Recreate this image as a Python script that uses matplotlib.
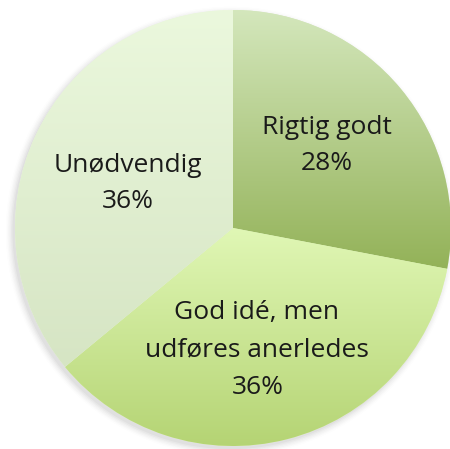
import matplotlib
matplotlib.use("Agg")
import matplotlib.pyplot as plt
import numpy as np
from matplotlib.colors import LinearSegmentedColormap

labels = ["Rigtig godt", "God idé, men\nudføres anerledes", "Unødvendig"]
values = [28, 36, 36]
top_colors = ["#d4e7bc", "#e0f7b5", "#ebf8dd"]
bottom_colors = ["#93b258", "#b5d474", "#d6e5c4"]

W, H = 450, 449
cx, cy, R = 233, 228, 218
fig = plt.figure(figsize=(W / 100, H / 100), dpi=100)
ax = fig.add_axes([0, 0, 1, 1])

# shadow
for i, a in enumerate(np.linspace(0.05, 0.012, 6)):
    c = plt.Circle((-0.012, -0.015), 1.0 + i * 0.006, color="#606060", alpha=a, lw=0, zorder=0)
    ax.add_patch(c)

wedges, _ = ax.pie(values, startangle=90, counterclock=False, radius=1.0,
                   colors=top_colors, wedgeprops=dict(linewidth=0))

for w, tc, bc in zip(wedges, top_colors, bottom_colors):
    ext = w.get_path().get_extents(w.get_transform() + ax.transData.inverted())
    y0, y1 = ext.y0, ext.y1
    cmap = LinearSegmentedColormap.from_list("g", [bc, tc])
    grad = np.linspace(0, 1, 256).reshape(-1, 1)
    im = ax.imshow(grad, cmap=cmap, origin="lower", aspect="auto",
                   extent=[-1.01, 1.01, y0, y1], zorder=2, interpolation="bilinear")
    im.set_clip_path(w)

ax.set_xlim(-cx / R, (W - cx) / R)
ax.set_ylim(-(H - cy) / R, cy / R)
ax.set_aspect("auto")
ax.axis("off")

def px(x, y):
    return ((x - cx) / R, (cy - y) / R)

fs = 19
fam = ["Open Sans", "DejaVu Sans"]
tcol = "#1a1a1a"
g_lines = labels[1].split("\n")
txts = [
    (labels[0], px(327, 128)), (f"{values[0]}%", px(327, 164)),
    (labels[2], px(128, 165)), (f"{values[2]}%", px(128, 202)),
    (g_lines[0], px(257, 313)), (g_lines[1], px(257, 350)),
    (f"{values[1]}%", px(258, 387)),
]
for s, (x, y) in txts:
    ax.text(x, y, s, ha="center", va="center", fontsize=fs, family=fam, color=tcol, zorder=5)

fig.savefig("out.png", dpi=100, facecolor="white")
